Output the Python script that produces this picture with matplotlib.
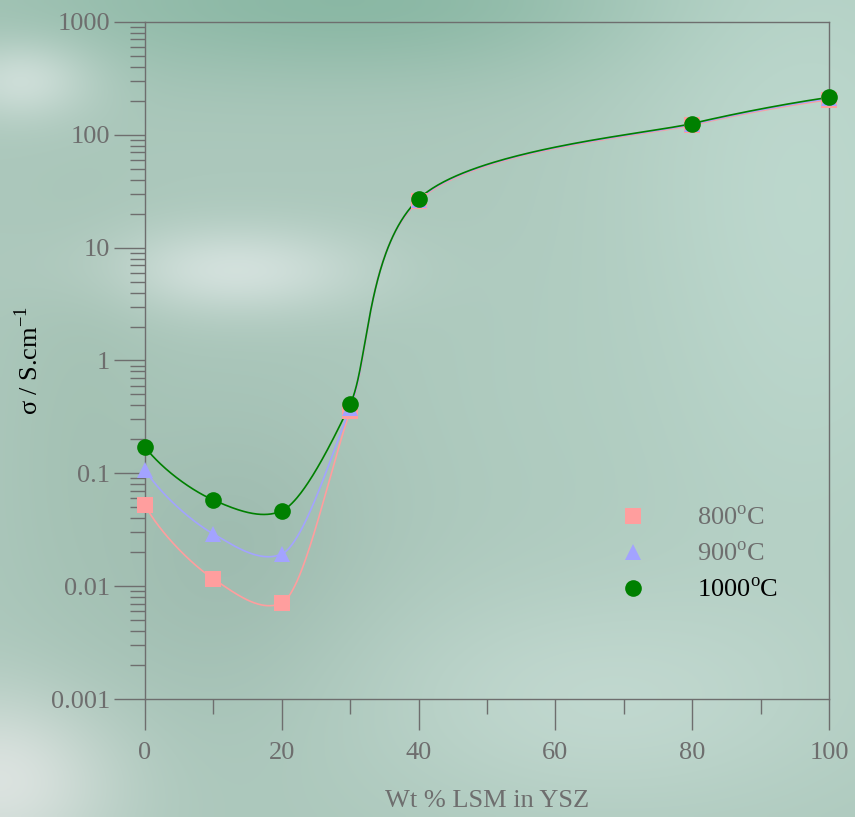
import numpy as np
import matplotlib
matplotlib.use("Agg")
import matplotlib.pyplot as plt
from matplotlib.ticker import FixedLocator, NullFormatter, FixedFormatter

# ---- data ----
wt_lsm = [0, 10, 20, 30, 40, 80, 100]
sigma_800 = [0.052, 0.0116, 0.0071, 0.36, 26.0, 122.0, 205.0]
sigma_900 = [0.107, 0.029, 0.0193, 0.38, 26.5, 124.0, 210.0]
sigma_1000 = [0.171, 0.058, 0.0465, 0.41, 27.0, 126.0, 215.0]
series_labels = ["800$^{\\mathrm{o}}$C", "900$^{\\mathrm{o}}$C", "1000$^{\\mathrm{o}}$C"]
x_tick_labels = ["0", "20", "40", "60", "80", "100"]
y_tick_labels = ["0.001", "0.01", "0.1", "1", "10", "100", "1000"]

plt.rcParams['font.family'] = ['Liberation Serif', 'DejaVu Serif']
plt.rcParams['mathtext.fontset'] = 'custom'
plt.rcParams['mathtext.rm'] = 'Liberation Serif'

W, H = 855, 817
fig = plt.figure(figsize=(W / 100, H / 100), dpi=100)

# ---- background (smooth greenish texture) ----
bg = fig.add_axes([0, 0, 1, 1], zorder=-10)
gy, gx = np.mgrid[0:H:4, 0:W:4].astype(float)
img = np.zeros(gx.shape + (3,))
img[:] = np.array([172, 200, 188]) / 255.0

def blob(cx, cy, rx, ry, col, strength):
    w = strength * np.exp(-(((gx - cx) / rx) ** 2 + ((gy - cy) / ry) ** 2))
    c = np.array(col) / 255.0
    for k in range(3):
        img[..., k] = img[..., k] * (1 - w) + c[k] * w

blob(350, 0, 350, 80, (135, 182, 162), 0.9)
blob(800, 200, 200, 400, (195, 222, 212), 0.7)
blob(20, 80, 70, 40, (215, 228, 224), 0.8)
blob(230, 270, 140, 45, (222, 232, 230), 0.8)
blob(0, 780, 120, 90, (225, 230, 228), 0.9)
blob(230, 560, 150, 160, (150, 180, 168), 0.6)
blob(80, 420, 80, 200, (160, 190, 175), 0.5)
blob(600, 700, 250, 120, (205, 225, 218), 0.6)
blob(560, 380, 150, 150, (178, 207, 195), 0.4)
img = np.clip(img, 0, 1)
bg.imshow(img, extent=[0, 1, 0, 1], aspect='auto', interpolation='bilinear')
bg.set_axis_off()

# ---- main axes ----
ax = fig.add_axes([145 / W, 1 - 699 / H, (829 - 145) / W, (699 - 22) / H])
ax.patch.set_alpha(0)
ax.set_yscale('log')
ax.set_xlim(0, 100)
ax.set_ylim(0.001, 1000)
grey = '#6e6e6e'
for s in ax.spines.values():
    s.set_color(grey)
    s.set_linewidth(1.0)


def smooth(xs, ys, n=80):
    """Smoothed line through the points (Bezier, screen-like space)."""
    P = np.column_stack([np.array(xs, float) / 100.0 * 684,
                         (np.log10(np.array(ys, float)) + 3) / 6.0 * 677])
    ch = np.diff(P, axis=0)
    d = np.hypot(ch[:, 0], ch[:, 1])
    u = ch / d[:, None]
    T = np.zeros_like(P)
    for i in range(1, len(P) - 1):
        v = u[i - 1] + u[i]
        T[i] = v / np.hypot(*v)
    T[0] = 2 * np.dot(u[0], T[1]) * u[0] - T[1]
    T[-1] = 2 * np.dot(u[-1], T[-2]) * u[-1] - T[-2]
    out = []
    t = np.linspace(0, 1, n)[:, None]
    last = len(P) - 2
    for i in range(len(P) - 1):
        p1, p2 = P[i], P[i + 1]
        a1 = min(d[i], d[i - 1]) if i > 0 else d[i]
        a2 = min(d[i], d[i + 1]) if i < last else d[i]
        c1 = p1 + T[i] * a1 / 3
        c2 = p2 - T[i + 1] * a2 / 3
        seg = (1 - t) ** 3 * p1 + 3 * (1 - t) ** 2 * t * c1 + 3 * (1 - t) * t ** 2 * c2 + t ** 3 * p2
        out.append(seg if i == 0 else seg[1:])
    out = np.vstack(out)
    return out[:, 0] / 684 * 100, 10 ** (out[:, 1] / 677 * 6 - 3)

styles = [
    (sigma_800, '#ff9e9e', 's', 12),
    (sigma_900, '#a3a3ff', '^', 11.5),
    (sigma_1000, '#008000', 'o', 12),
]
handles = []
for (vals, col, mk, ms), lab in zip(styles, series_labels):
    sx, sy = smooth(wt_lsm, vals)
    ax.plot(sx, sy, color=col, lw=1.2, zorder=2)
    h, = ax.plot(wt_lsm, vals, linestyle='none', marker=mk, ms=ms, color=col,
                 markeredgewidth=0, zorder=3, clip_on=False, label=lab)
    handles.append(h)

# ---- ticks ----
ax.xaxis.set_major_locator(FixedLocator([0, 20, 40, 60, 80, 100]))
ax.xaxis.set_major_formatter(FixedFormatter(x_tick_labels))
ax.xaxis.set_minor_locator(FixedLocator([10, 30, 50, 70, 90]))
ax.xaxis.set_minor_formatter(NullFormatter())
majors = [1e-3, 1e-2, 1e-1, 1, 10, 100, 1000]
ax.yaxis.set_major_locator(FixedLocator(majors))
ax.yaxis.set_major_formatter(FixedFormatter(y_tick_labels))
minors = [m * d for d in majors[:-1] for m in range(2, 10)]
ax.yaxis.set_minor_locator(FixedLocator(minors))
ax.yaxis.set_minor_formatter(NullFormatter())

ax.tick_params(axis='both', which='major', direction='out', length=22, width=1,
               color=grey, labelcolor=grey, labelsize=19, top=False, right=False)
ax.tick_params(axis='both', which='minor', direction='out', length=11, width=1,
               color=grey, top=False, right=False)
ax.tick_params(axis='x', which='major', pad=9)
ax.tick_params(axis='y', which='major', pad=3)

ax.set_xlabel('Wt % LSM in YSZ', fontsize=19, color=grey, labelpad=19)
ax.set_ylabel('σ / S.cm$^{\\mathrm{-1}}$', fontsize=19, color='black', labelpad=6)

leg = ax.legend(handles=handles, loc='upper left', bbox_to_anchor=(0.66, 0.32),
                frameon=False, fontsize=19, handlelength=1.0, handletextpad=1.9,
                labelspacing=0.46)
for t, c in zip(leg.get_texts(), [grey, grey, 'black']):
    t.set_color(c)

fig.savefig('out.png', dpi=100)
